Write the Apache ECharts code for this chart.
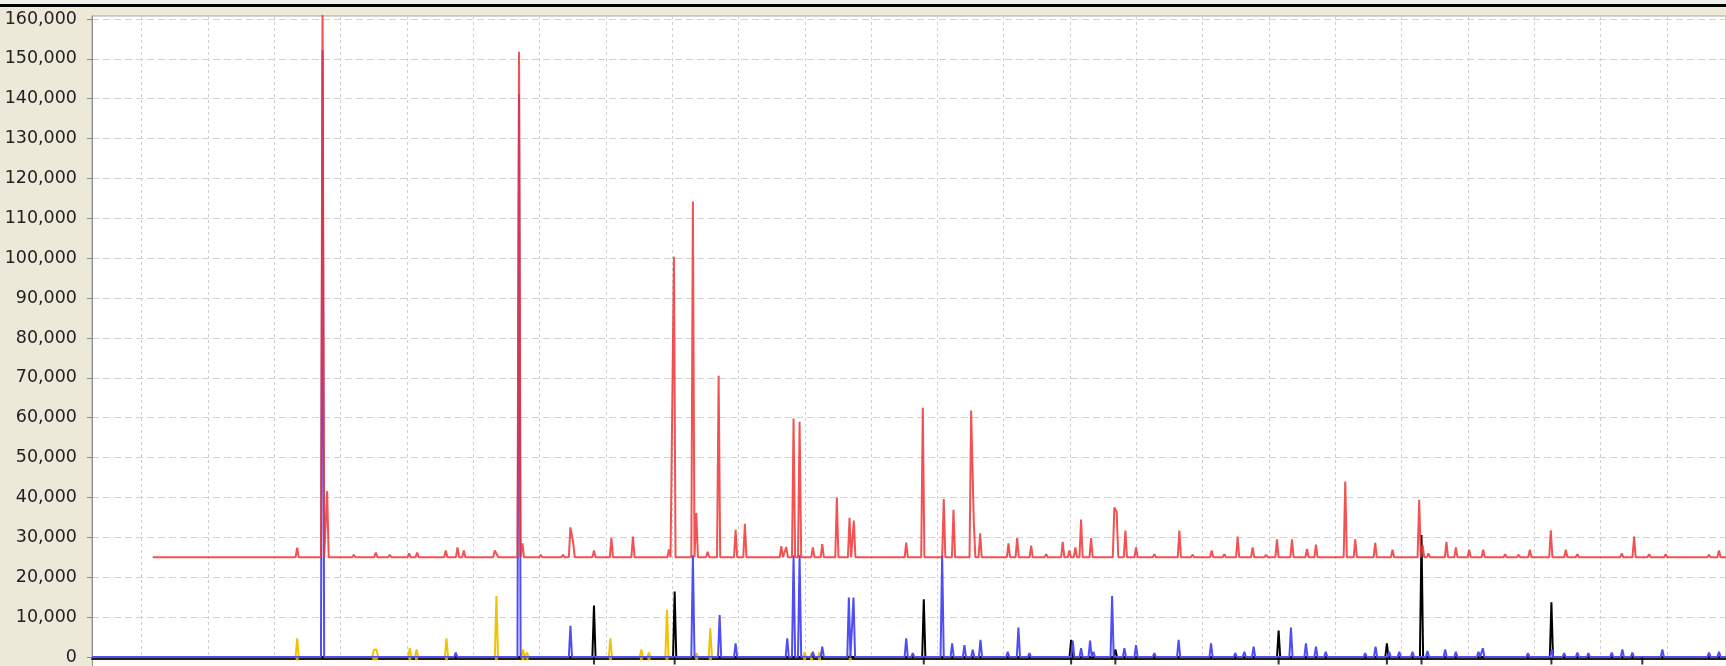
<!DOCTYPE html>
<html>
<head>
<meta charset="utf-8">
<script src="https://cdn.jsdelivr.net/npm/echarts@6/dist/echarts.min.js"></script>
<style>
html,body{margin:0;padding:0;background:#ECE9D8;}
#c{width:1726px;height:666px;}
</style>
</head>
<body>
<div id="c"></div>
<script>
// ---- data (x in scan units, y in counts) ----
const xMin = 4.251;
const xMax = 28.893;
const yTickLabels = ['0','10,000','20,000','30,000','40,000','50,000','60,000','70,000','80,000',
  '90,000','100,000','110,000','120,000','130,000','140,000','150,000','160,000'];

const redStart = 5.166;
const redBaseline = 25000;
const redPos = [7.345, 7.728, 7.797, 8.200, 8.531, 8.742, 9.033, 9.154, 9.586, 9.763, 9.858, 10.325, 10.355,
  10.691, 10.742, 11.018, 11.354, 11.466, 11.508, 11.821, 12.084, 12.409, 12.661, 12.952, 13.027, 13.313,
  13.365, 13.535, 13.701, 13.957, 14.097, 14.646, 14.721, 14.831, 14.922, 15.122, 15.264, 15.484, 15.675,
  15.740, 16.530, 16.780, 17.096, 17.243, 17.509, 17.549, 17.645, 18.072, 18.203, 18.414, 18.640, 18.890,
  18.991, 19.081, 19.167, 19.318, 19.669, 19.704, 19.835, 19.996, 20.272, 20.649, 20.849, 21.136, 21.327,
  21.528, 21.754, 21.956, 22.121, 22.348, 22.574, 22.709, 23.151, 23.302, 23.603, 23.864, 24.266, 24.319,
  24.406, 24.677, 24.819, 25.020, 25.231, 25.562, 25.763, 25.935, 26.251, 26.477, 26.652, 26.828, 27.069,
  27.321, 27.507, 27.733, 27.984, 28.184, 28.486, 28.637, 28.787];
const redInt = [27400, 165000, 41600, 25600, 26200, 25600, 26000, 26200, 26700, 27500, 26700, 26700, 26700,
  151800, 28500, 25600, 25600, 32500, 28600, 26700, 29800, 30200, 25500, 27000, 100400, 114200,
  36100, 26400, 70500, 31900, 33400, 27800, 27600, 59800, 59000, 27500, 28300, 40000, 34900,
  34200, 28700, 62500, 39600, 36900, 61800, 33900, 31000, 28500, 29800, 27900, 25800, 28900,
  26700, 27500, 34500, 29800, 37500, 36400, 31700, 27500, 25800, 31700, 25600, 26700, 25800,
  30200, 27500, 25600, 29500, 29500, 27100, 28200, 44000, 29500, 28600, 26900, 39400, 28000,
  26000, 28900, 27500, 26900, 26900, 25800, 25600, 26900, 31800, 26900, 25800, 25300, 25300,
  26000, 30200, 25800, 25800, 25300, 25300, 25600, 26700];

const blueBaseline = 0;
const bluePos = [7.728, 9.737, 10.691, 11.466, 13.313, 13.716, 13.957, 14.736, 14.831, 14.922, 15.122, 15.264,
  15.665, 15.735, 16.530, 16.629, 17.072, 17.223, 17.408, 17.533, 17.650, 18.061, 18.222, 18.388, 19.041,
  19.167, 19.303, 19.353, 19.635, 19.820, 19.996, 20.272, 20.638, 21.127, 21.493, 21.629, 21.769, 22.332,
  22.558, 22.709, 22.857, 23.452, 23.608, 23.814, 23.965, 24.165, 24.391, 24.658, 24.819, 25.160, 25.226,
  25.906, 26.266, 26.452, 26.652, 26.818, 27.170, 27.330, 27.481, 27.933, 28.637, 28.787];
const blueInt = [152200, 1100, 141200, 7800, 25500, 10500, 3400, 4700, 25500, 25500, 1300, 2600,
  14900, 14900, 4700, 1000, 25500, 3400, 3000, 1800, 4300, 1300, 7400, 1000, 4100,
  2200, 4100, 1300, 15300, 2200, 3000, 1000, 4300, 3400, 1000, 1300, 2600, 7400,
  3400, 2600, 1300, 1000, 2600, 1300, 1300, 1300, 1500, 1900, 1300, 1300, 2200,
  1000, 1900, 1000, 1100, 1000, 1100, 1900, 1100, 1900, 1100, 1300];

const yellowPos = [7.345, 8.501, 8.542, 9.044, 9.145, 9.597, 10.350, 10.751, 10.812, 12.069, 12.536, 12.650,
  12.922, 13.369, 13.576, 14.997, 15.103, 15.223, 15.686];
const yellowInt = [4700, 1800, 1900, 2200, 1900, 4700, 15300, 1900, 1100, 4700, 1900, 1100,
  11800, 1000, 7200, 1200, 1000, 1200, 800];

const blackPos = [11.821, 13.038, 16.795, 19.017, 19.684, 22.146, 23.779, 24.301, 26.260];
const blackInt = [12900, 16400, 14500, 4300, 1900, 6600, 3400, 30600, 13700];
const blackTickPos = [11.821, 13.038, 16.795, 19.017, 19.684, 22.146, 23.779, 24.301, 26.260, 27.631];

// ---- build line data: each read peak becomes base -> apex -> base ----
const HW = 0.024;
function buildProfile(pos, val, base, x0, x1) {
  const d = [[x0, base]];
  for (let i = 0; i < pos.length; i++) {
    const x = pos[i];
    if (i === 0 || x - pos[i - 1] > 2 * HW) d.push([x - HW, base]);
    d.push([x, val[i]]);
    if (i === pos.length - 1 || pos[i + 1] - x > 2 * HW) d.push([x + HW, base]);
  }
  d.push([x1, base]);
  return d;
}

const chart = echarts.init(document.getElementById('c'), null, {renderer: 'canvas'});
const lineSeries = (name, data, color, extra) => Object.assign({
  name, type: 'line', data, symbol: 'none', showSymbol: false, animation: false,
  silent: true, lineStyle: {color, width: 2}
}, extra || {});

chart.setOption({
  backgroundColor: '#ECE9D8',
  animation: false,
  textStyle: {fontFamily: 'DejaVu Sans'},
  graphic: [
    {type: 'rect', shape: {x: 0, y: 0, width: 1726, height: 4}, style: {fill: '#EEF1E7'}, z: 10},
    {type: 'rect', shape: {x: 0, y: 4, width: 1726, height: 3}, style: {fill: '#000'}, z: 10},
    {type: 'rect', shape: {x: 93, y: 657, width: 1633, height: 9}, style: {fill: '#fff'}, z: -1},
    {type: 'line', shape: {x1: 92.5, y1: 657, x2: 92.5, y2: 666}, style: {stroke: '#8c8c8c', lineWidth: 1}, z: -1}
  ],
  grid: {left: 92, top: 16, width: 1635, height: 641, show: true, backgroundColor: '#fff',
    borderColor: '#aaa79a', borderWidth: 1},
  xAxis: {
    type: 'value', min: xMin, max: xMax, splitNumber: 25,
    axisLabel: {show: false}, axisTick: {show: false},
    offset: 2,
    axisLine: {show: true, onZero: false, lineStyle: {color: '#2a1e10', width: 2}},
    splitLine: {show: true, showMinLine: false, showMaxLine: false,
      lineStyle: {color: '#cfcfcf', width: 1, type: [3, 3]}}
  },
  yAxis: {
    type: 'value', min: 0, max: 160750, interval: 10000,
    axisLine: {show: true, lineStyle: {color: '#8c8c8c'}},
    axisTick: {show: true, length: 5, lineStyle: {color: '#8c8c8c'}},
    axisLabel: {
      show: true, showMaxLabel: false, margin: 15, color: '#222',
      fontFamily: 'DejaVu Sans', fontSize: 17.5,
      formatter: v => (v % 10000 === 0 ? (yTickLabels[v / 10000] || '') : '')
    },
    splitLine: {show: true, showMaxLine: false, lineStyle: {color: '#d2d2d2', width: 1, type: [7, 4]}}
  },
  series: [
    lineSeries('yellow', buildProfile(yellowPos, yellowInt, 0, xMin, xMax), '#F2C200', {z: 2}),
    lineSeries('black', buildProfile(blackPos, blackInt, 0, xMin, xMax), '#000000', {z: 2}),
    lineSeries('blue', buildProfile(bluePos, blueInt, blueBaseline, xMin, xMax), '#4E4EF2', {z: 3}),
    lineSeries('red', buildProfile(redPos, redInt, redBaseline, redStart, xMax), '#F03434',
      {z: 4, lineStyle: {color: '#F03434', width: 2, opacity: 0.85}}),
    {
      name: 'yellowTicks', type: 'scatter', silent: true, animation: false, clip: false, z: 5,
      data: yellowPos.map(x => [x, 0]), symbol: 'rect', symbolSize: [3, 3], symbolOffset: [0, 2],
      itemStyle: {color: '#F2C200'}
    },
    {
      name: 'blackTicks', type: 'scatter', silent: true, animation: false, clip: false, z: 5,
      data: blackTickPos.map(x => [x, 0]), symbol: 'rect', symbolSize: [2, 7], symbolOffset: [0, 4],
      itemStyle: {color: '#000'}
    }
  ]
});
</script>
</body>
</html>
